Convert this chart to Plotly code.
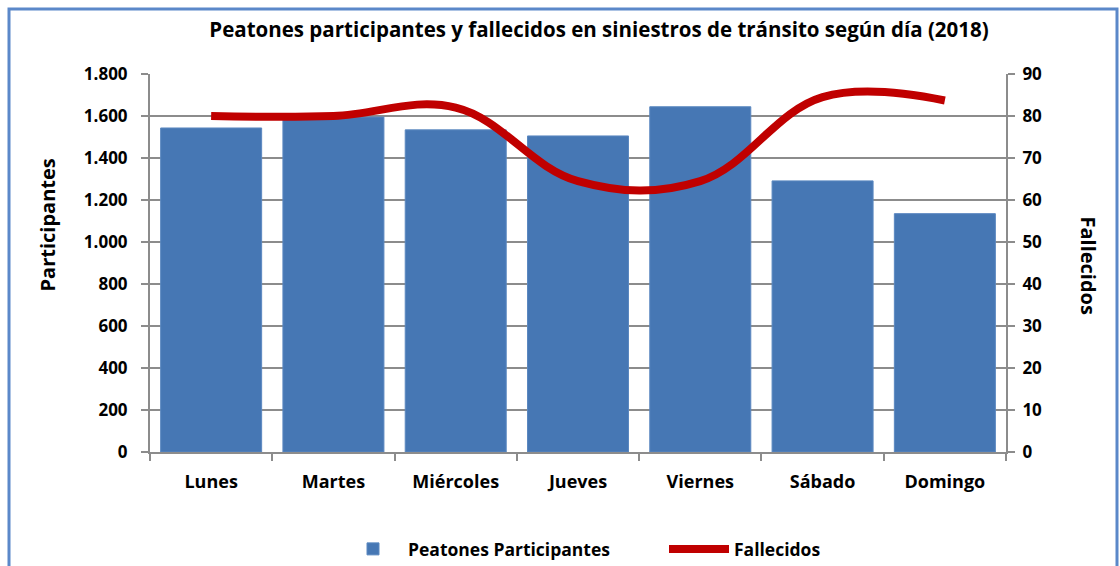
import plotly.graph_objects as go

dias = ["Lunes", "Martes", "Miércoles", "Jueves", "Viernes", "Sábado", "Domingo"]
participantes = [1543, 1595, 1534, 1505, 1644, 1291, 1135]
fallecidos = [80, 80, 82, 64.5, 64.5, 84.5, 83.7]

left_ticks = [0, 200, 400, 600, 800, 1000, 1200, 1400, 1600, 1800]
right_ticks = [0, 10, 20, 30, 40, 50, 60, 70, 80, 90]

FONT = "Open Sans"

fig = go.Figure()
fig.add_trace(go.Bar(
    x=dias, y=participantes, name="Peatones Participantes",
    marker=dict(color="#4677B4", line=dict(color="#5b88c0", width=1)),
    width=0.826,
))
fig.add_trace(go.Scatter(
    x=dias, y=fallecidos, name="Fallecidos", yaxis="y2",
    mode="lines", line=dict(color="#C00000", width=8, shape="spline", smoothing=1.1),
))

W, H = 1120, 566
L, R, T, B = 150, 114, 74, 114
pw = W - L - R
ph = H - T - B

def px2x(x):
    return (x - L) / pw

def py2y(y):
    return (H - B - y) / ph

bold = dict(family=FONT, weight="bold", color="black")
GRAY = "#8c8c8c"

fig.update_layout(
    width=W, height=H,
    margin=dict(l=L, r=R, t=T, b=B),
    paper_bgcolor="white", plot_bgcolor="white",
    separators=",.",
    font=dict(family=FONT, color="black", size=15),
    title=dict(text="<b>Peatones participantes y fallecidos en siniestros de tránsito según día (2018)</b>",
               x=599 / W, xref="container", xanchor="center", y=1 - 30 / H, yref="container",
               yanchor="middle", font=dict(size=20.5, family=FONT)),
    showlegend=True,
    legend=dict(orientation="h", x=338 / W, xanchor="left", xref="container",
                y=1 - 549 / H, yanchor="middle", yref="container",
                font=dict(size=17.5, **bold), traceorder="normal", itemwidth=60,
                entrywidth=251, entrywidthmode="pixels"),
    xaxis=dict(showline=True, linecolor=GRAY, linewidth=2,
               ticks="outside", tickson="boundaries", ticklen=7, tickcolor=GRAY, tickwidth=2,
               tickfont=dict(size=18, **bold), showgrid=False, ticklabelstandoff=12),
    yaxis=dict(range=[0, 1800], tickvals=left_ticks, tickformat=",d",
               showline=True, linecolor=GRAY, linewidth=2,
               ticks="outside", ticklen=7, tickcolor=GRAY, tickwidth=2,
               showgrid=True, gridcolor=GRAY, gridwidth=2,
               tickfont=dict(size=17, **bold), zeroline=False, ticklabelstandoff=10),
    yaxis2=dict(range=[0, 90], tickvals=right_ticks, overlaying="y", side="right",
                showline=True, linecolor=GRAY, linewidth=2,
                ticks="outside", ticklen=7, tickcolor=GRAY, tickwidth=2,
                showgrid=False, tickfont=dict(size=17, **bold), zeroline=False,
                ticklabelstandoff=4),
    annotations=[
        dict(text="<b>Participantes</b>", x=32 / W, y=1 - 225 / H, xref="paper", yref="paper",
             textangle=-90, showarrow=False, font=dict(size=20, family=FONT)),
        dict(text="<b>Fallecidos</b>", x=1104 / W, y=1 - 266 / H, xref="paper", yref="paper",
             textangle=90, showarrow=False, font=dict(size=20, family=FONT)),
    ],
    shapes=[
        dict(type="rect", xref="paper", yref="paper",
             x0=px2x(9), x1=px2x(1117), y0=py2y(9), y1=py2y(600),
             line=dict(color="#5b88c9", width=3)),
    ],
)
# annotations positions in pixel -> paper
for a in fig.layout.annotations:
    pass
fig.layout.annotations[0].update(x=px2x(32), y=py2y(225))
fig.layout.annotations[1].update(x=px2x(1104), y=py2y(266))

fig.write_html("out.html", config={"displayModeBar": False},
               post_script="document.body.style.margin='0';document.body.style.overflow='hidden';")
